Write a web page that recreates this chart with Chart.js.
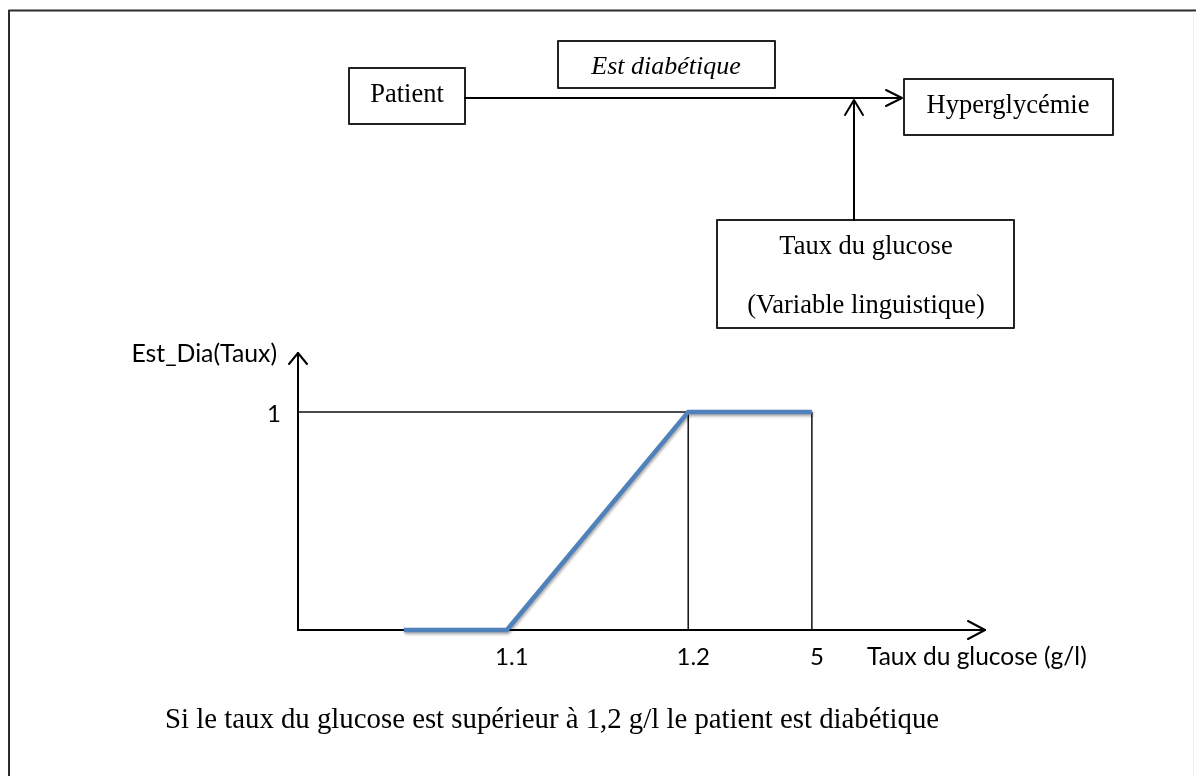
<!DOCTYPE html>
<html>
<head>
<meta charset="utf-8">
<script src="https://cdn.jsdelivr.net/npm/chart.js@4.4.1/dist/chart.umd.min.js"></script>
<style>
  html, body { margin: 0; padding: 0; background: #fff; }
  #chart { display: block; }
</style>
</head>
<body>
<canvas id="chart" width="1196" height="776"></canvas>
<script>
// schematic x positions (axis runs 0..100), value labels shown under the axis
const xTickLabels = ['1.1', '1.2', '5'];
const xTickPos = [30.4, 56.8, 74.8];
const yTickLabels = ['1'];
const yTickPos = [1];

// membership curve Est_Dia(Taux)
const curveX = [15.4, 30.4, 56.8, 74.8];
const curveY = [0, 0, 1, 1];

// thin guide lines
const levelGuideX = [0, 56.8, 56.8];
const levelGuideY = [1, 1, 0];
const upperGuideX = [74.8, 74.8];
const upperGuideY = [1, 0];

const toPoints = (xs, ys) => xs.map((x, i) => ({ x: x, y: ys[i] }));

const SERIF = '"Liberation Serif", "Times New Roman", serif';
const SANS = 'Lato, "Open Sans", sans-serif';

function arrowHead(ctx, tx, ty, dx, dy, back, half) {
    // open chevron pointing in direction (dx, dy)
    const px = -dy, py = dx;
    ctx.beginPath();
    ctx.moveTo(tx - dx * back + px * half, ty - dy * back + py * half);
    ctx.lineTo(tx, ty);
    ctx.lineTo(tx - dx * back - px * half, ty - dy * back - py * half);
    ctx.stroke();
}

const diagramPlugin = {
    id: 'diagram',
    beforeDraw: (chart) => {
        const ctx = chart.ctx;
        ctx.save();
        ctx.fillStyle = '#fff';
        ctx.fillRect(0, 0, chart.width, chart.height);
        ctx.restore();
    },
    beforeDatasetDraw: (chart, args) => {
        if (args.index === 0) {
            chart.ctx.save();
            chart.ctx.shadowColor = 'rgba(0,0,0,0.35)';
            chart.ctx.shadowBlur = 3;
            chart.ctx.shadowOffsetX = 1;
            chart.ctx.shadowOffsetY = 2;
        }
    },
    afterDatasetDraw: (chart, args) => {
        if (args.index === 0) chart.ctx.restore();
    },
    afterDraw: (chart) => {
        const ctx = chart.ctx;
        const a = chart.chartArea;
        ctx.save();
        ctx.lineCap = 'round';
        ctx.lineJoin = 'round';

        // page frame
        ctx.strokeStyle = '#2b2b2b';
        ctx.lineWidth = 2;
        ctx.beginPath();
        ctx.moveTo(9, 790);
        ctx.lineTo(9, 10.5);
        ctx.lineTo(1196, 10.5);
        ctx.stroke();
        ctx.strokeStyle = '#efefef';
        ctx.lineWidth = 1;
        ctx.beginPath();
        ctx.moveTo(1193.5, 12);
        ctx.lineTo(1193.5, 776);
        ctx.stroke();

        // axis arrow heads
        ctx.strokeStyle = '#000';
        ctx.lineWidth = 2;
        arrowHead(ctx, a.right, a.bottom, 1, 0, 17, 9);
        arrowHead(ctx, a.left, a.top, 0, -1, 11, 9);

        // boxes of the diagram
        ctx.strokeStyle = '#222';
        ctx.lineWidth = 2;
        ctx.strokeRect(349, 68, 116, 56);
        ctx.strokeRect(558, 41, 217, 47);
        ctx.strokeRect(904, 79, 209, 56);
        ctx.strokeRect(717, 220, 297, 108);

        // arrows of the diagram
        ctx.strokeStyle = '#000';
        ctx.beginPath();
        ctx.moveTo(465, 98);
        ctx.lineTo(901, 98);
        ctx.moveTo(854, 220);
        ctx.lineTo(854, 101);
        ctx.stroke();
        arrowHead(ctx, 902, 98, 1, 0, 16, 8);
        arrowHead(ctx, 854, 100, 0, -1, 15, 9);

        // diagram texts
        ctx.fillStyle = '#000';
        ctx.textBaseline = 'alphabetic';
        ctx.textAlign = 'center';
        ctx.font = '26.5px ' + SERIF;
        ctx.fillText('Patient', 407, 102);
        ctx.fillText('Hyperglycémie', 1008, 113);
        ctx.fillText('Taux du glucose', 866, 254);
        ctx.fillText('(Variable linguistique)', 866, 313);
        ctx.font = 'italic 26px ' + SERIF;
        ctx.fillText('Est diabétique', 666, 74);

        // axis titles
        ctx.font = '24.8px ' + SANS;
        ctx.textAlign = 'right';
        ctx.fillText('Est_Dia(Taux)', 277, 362);
        ctx.textAlign = 'left';
        ctx.font = '24.5px ' + SANS;
        ctx.fillText('Taux du glucose (g/l)', 867, 665);

        // caption
        ctx.font = '28.8px ' + SERIF;
        ctx.fillText('Si le taux du glucose est supérieur à 1,2 g/l le patient est diabétique', 165, 728);
        ctx.restore();
    }
};

const chart = new Chart(document.getElementById('chart'), {
    type: 'line',
    data: {
        datasets: [
            {
                label: 'Est_Dia(Taux)',
                data: toPoints(curveX, curveY),
                borderColor: '#4f81bd',
                borderWidth: 4.5,
                pointRadius: 0,
                tension: 0,
                clip: false,
                borderCapStyle: 'butt'
            },
            {
                label: 'level guide',
                data: toPoints(levelGuideX, levelGuideY),
                borderColor: '#111',
                borderWidth: 1.5,
                pointRadius: 0,
                tension: 0,
                clip: false
            },
            {
                label: 'upper guide',
                data: toPoints(upperGuideX, upperGuideY),
                borderColor: '#111',
                borderWidth: 1.5,
                pointRadius: 0,
                tension: 0,
                clip: false
            }
        ]
    },
    options: {
        animation: false,
        responsive: false,
        devicePixelRatio: 1,
        layout: {
            padding: { left: 248, right: 211, top: 353, bottom: 96 }
        },
        plugins: {
            legend: { display: false },
            tooltip: { enabled: false },
            title: { display: false }
        },
        scales: {
            x: {
                type: 'linear',
                min: 0,
                max: 100,
                grid: { display: false, drawTicks: false },
                border: { display: true, color: '#000', width: 2 },
                afterFit: (s) => { s.height = 50; },
                afterBuildTicks: (s) => { s.ticks = xTickPos.map(v => ({ value: v })); },
                ticks: {
                    autoSkip: false,
                    maxRotation: 0,
                    padding: 13,
                    labelOffset: 5,
                    color: '#000',
                    font: { family: SANS, size: 24 },
                    callback: (v, i) => xTickLabels[i]
                }
            },
            y: {
                type: 'linear',
                min: 0,
                max: 1.27,
                grid: { display: false, drawTicks: false },
                border: { display: true, color: '#000', width: 2 },
                afterFit: (s) => { s.width = 50; },
                afterBuildTicks: (s) => { s.ticks = yTickPos.map(v => ({ value: v })); },
                ticks: {
                    autoSkip: false,
                    padding: 17,
                    labelOffset: 2,
                    color: '#000',
                    font: { family: SANS, size: 24 },
                    callback: (v, i) => yTickLabels[i]
                }
            }
        }
    },
    plugins: [diagramPlugin]
});
</script>
</body>
</html>
